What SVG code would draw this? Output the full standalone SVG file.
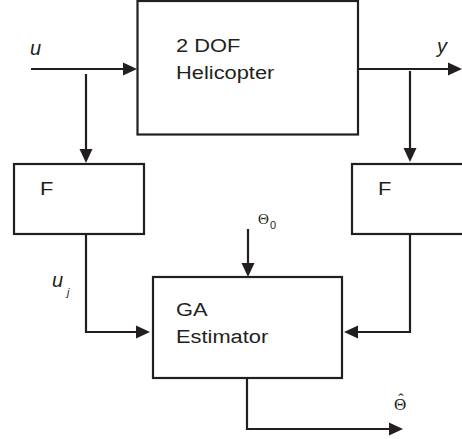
<svg xmlns="http://www.w3.org/2000/svg" width="462" height="439" viewBox="0 0 462 439">
  <defs>
    <!-- filled arrowhead; tip sits 4px beyond the path end -->
    <marker id="ah" markerUnits="userSpaceOnUse" markerWidth="14" markerHeight="14" viewBox="0 0 14 14" refX="10" refY="7" orient="auto">
      <path d="M0,0.5 L14,7 L0,13.5 Z" fill="#231f20"/>
    </marker>
  </defs>
  <style>
    .box { fill: #ffffff; stroke: #231f20; stroke-width: 2.2; }
    .wire { fill: none; stroke: #231f20; stroke-width: 2.2; marker-end: url(#ah); }
    .lbl { font-family: "Liberation Sans", Arial, sans-serif; font-size: 19px; fill: #231f20; }
    .var { font-family: "Liberation Sans", Arial, sans-serif; font-size: 20px; font-style: italic; fill: #231f20; }
    .sym { font-family: "Liberation Serif", "DejaVu Serif", serif; fill: #231f20; }
    .sub { font-family: "Liberation Sans", Arial, sans-serif; fill: #231f20; }
  </style>
  <rect width="462" height="439" fill="#ffffff"/>

  <g id="connectors">
    <path class="wire" d="M31,69 H133"/>
    <path class="wire" d="M86,74 V159"/>
    <path class="wire" d="M358,69 H458"/>
    <path class="wire" d="M410,71 V158"/>
    <path class="wire" d="M86,234 V332 H146"/>
    <path class="wire" d="M410,234 V332 H348"/>
    <path class="wire" d="M248,229 V273"/>
    <path class="wire" d="M247,379 V429 H399"/>
  </g>

  <g id="helicopter">
    <rect class="box" x="137.5" y="1" width="220.5" height="133.5"/>
    <text class="lbl" transform="translate(176,52) scale(1.15,1)">2 DOF</text>
    <text class="lbl" transform="translate(176,79) scale(1.15,1)">Helicopter</text>
  </g>

  <g id="filter-input">
    <rect class="box" x="14" y="164" width="130" height="70"/>
    <text class="lbl" transform="translate(40,195) scale(1.15,1)">F</text>
  </g>

  <g id="filter-output">
    <rect class="box" x="352" y="164" width="120" height="70"/>
    <text class="lbl" transform="translate(378,195) scale(1.15,1)">F</text>
  </g>

  <g id="ga-estimator">
    <rect class="box" x="153" y="277" width="189" height="101"/>
    <text class="lbl" transform="translate(176,316) scale(1.15,1)">GA</text>
    <text class="lbl" transform="translate(176,343) scale(1.15,1)">Estimator</text>
  </g>

  <g id="labels">
    <text class="var" x="30" y="55">u</text>
    <text class="var" x="437" y="53">y</text>
    <text class="var" x="52" y="287">u</text>
    <text class="sub" x="67" y="296" font-size="11" font-style="italic">j</text>
    <text class="sym" x="258" y="224" font-size="15">Θ</text>
    <text class="sub" x="270" y="229" font-size="11">0</text>
    <!-- theta-hat: circumflex placed over the theta in the same text run -->
    <text class="sym" x="394" y="410" font-size="17">Θ<tspan x="398.3" y="405" font-size="16">ˆ</tspan></text>
  </g>
</svg>
